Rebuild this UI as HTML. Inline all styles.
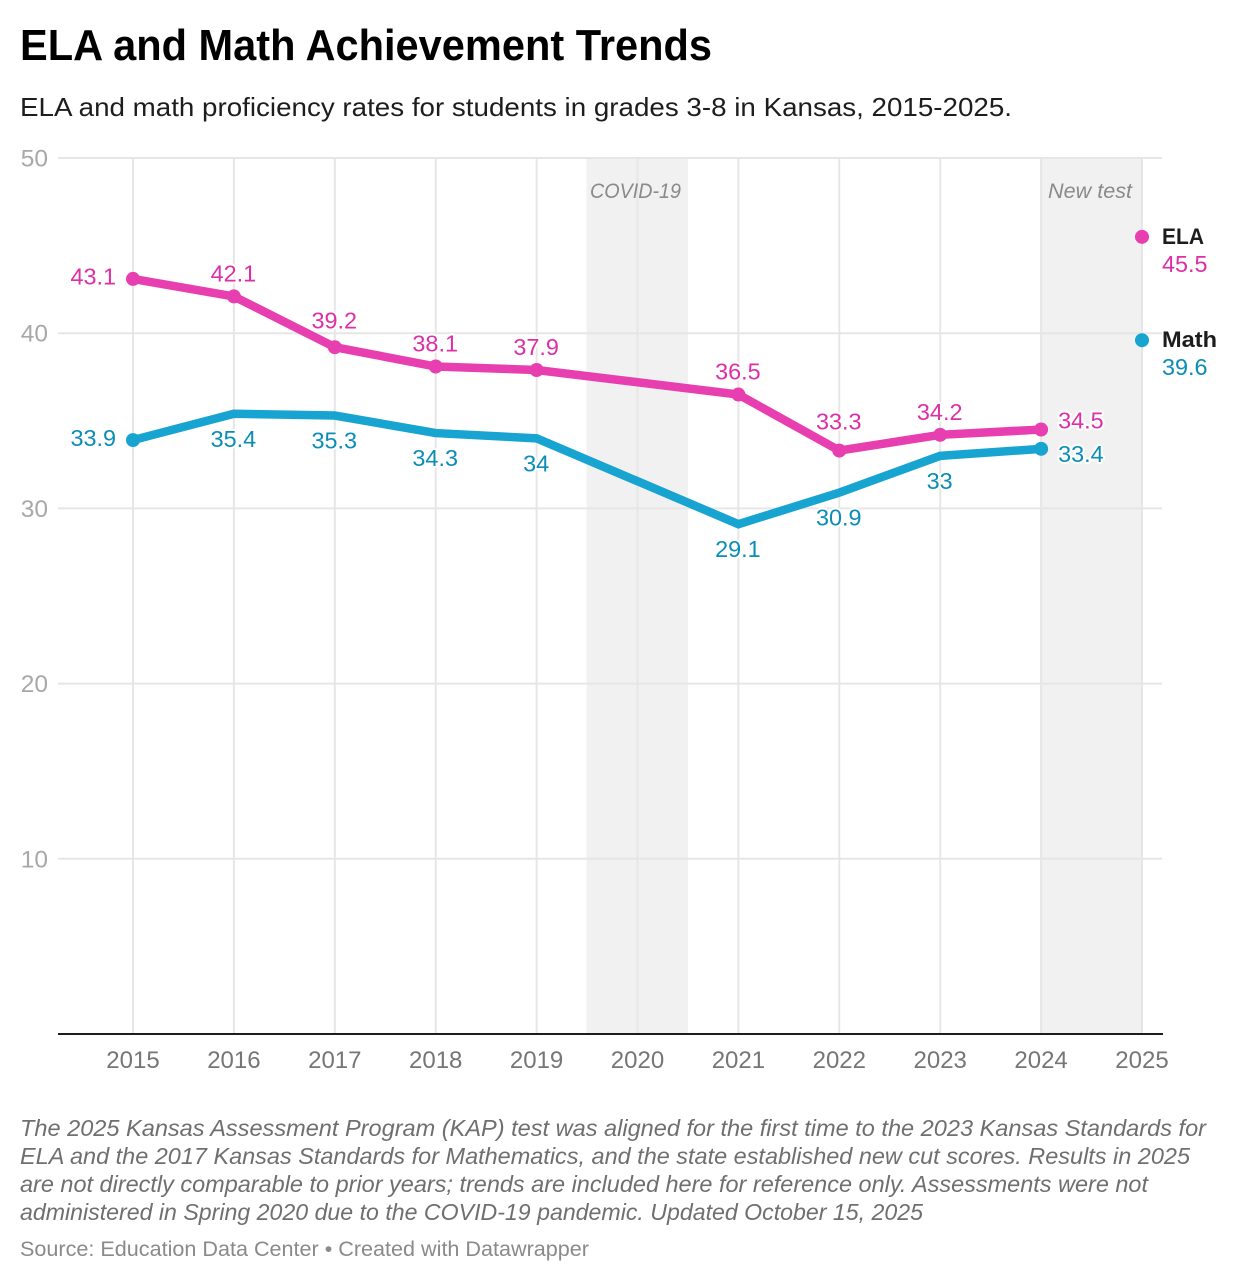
<!DOCTYPE html>
<html lang="en">
<head>
<meta charset="utf-8">
<title>ELA and Math Achievement Trends</title>
<style>
html,body{margin:0;padding:0;background:#fff;}
body{width:1238px;height:1282px;overflow:hidden;}
svg{display:block;font-family:"Liberation Sans",Arial,sans-serif;}
.halo{paint-order:stroke;stroke:#fff;stroke-width:4px;stroke-linejoin:round;}
</style>
</head>
<body>
<svg id="chart" width="1238" height="1282" viewBox="0 0 1238 1282" xmlns="http://www.w3.org/2000/svg">
  <rect x="0" y="0" width="1238" height="1282" fill="#ffffff"/>
  <text x="20" y="60" font-size="44" font-weight="700" fill="#000" textLength="692" lengthAdjust="spacingAndGlyphs">ELA and Math Achievement Trends</text>
  <text x="20" y="116" font-size="26" fill="#1d1d1d" textLength="992" lengthAdjust="spacingAndGlyphs">ELA and math proficiency rates for students in grades 3-8 in Kansas, 2015-2025.</text>

  <g id="bands"></g>
  <g id="grid"></g>
  <g id="yaxis"></g>
  <g id="xaxis"></g>
  <g id="annotations"></g>
  <g id="series"></g>

  <g font-size="23" font-style="italic" fill="#6f6f6f">
    <text x="20" y="1136" textLength="1186" lengthAdjust="spacingAndGlyphs">The 2025 Kansas Assessment Program (KAP) test was aligned for the first time to the 2023 Kansas Standards for</text>
    <text x="20" y="1164" textLength="1170" lengthAdjust="spacingAndGlyphs">ELA and the 2017 Kansas Standards for Mathematics, and the state established new cut scores. Results in 2025</text>
    <text x="20" y="1192" textLength="1128" lengthAdjust="spacingAndGlyphs">are not directly comparable to prior years; trends are included here for reference only. Assessments were not</text>
    <text x="20" y="1220" textLength="903" lengthAdjust="spacingAndGlyphs">administered in Spring 2020 due to the COVID-19 pandemic. Updated October 15, 2025</text>
  </g>
  <text x="20" y="1256" font-size="21" fill="#8a8a8a" textLength="569" lengthAdjust="spacingAndGlyphs">Source: Education Data Center • Created with Datawrapper</text>
</svg>
<script>
const years = [2015, 2016, 2017, 2018, 2019, 2020, 2021, 2022, 2023, 2024, 2025];
const elaValues = [43.1, 42.1, 39.2, 38.1, 37.9, null, 36.5, 33.3, 34.2, 34.5, 45.5];
const mathValues = [33.9, 35.4, 35.3, 34.3, 34, null, 29.1, 30.9, 33, 33.4, 39.6];
const yTicks = [10, 20, 30, 40, 50];
const covidBand = [2019.5, 2020.5];
const newTestBand = [2024, 2025];

const NS = 'http://www.w3.org/2000/svg';
const X0 = 133, X1 = 1142, Y0 = 1034, Y50 = 158;
const GRID_L = 58, GRID_R = 1162;
const x = v => X0 + (v - years[0]) * (X1 - X0) / (years[years.length - 1] - years[0]);
const y = v => Y0 - v * (Y0 - Y50) / 50;

function make(tag, parent, attrs, content) {
  const el = document.createElementNS(NS, tag);
  for (const k in attrs) el.setAttribute(k, attrs[k]);
  if (content !== undefined) el.textContent = content;
  parent.appendChild(el);
  return el;
}

const gBands = document.getElementById('bands');
const gGrid = document.getElementById('grid');
const gY = document.getElementById('yaxis');
const gX = document.getElementById('xaxis');
const gAnn = document.getElementById('annotations');
const gSeries = document.getElementById('series');

/* shaded bands */
{
  const el = make('rect', gBands, {x: x(covidBand[0]) - 0.5, y: Y50, width: x(covidBand[1]) - x(covidBand[0]) + 0.5, height: Y0 - Y50, fill: '#f1f1f1'});
  
  
  const el2 = make('rect', gBands, {x: x(newTestBand[0]), y: Y50, width: x(newTestBand[1]) - x(newTestBand[0]), height: Y0 - Y50, fill: '#f1f1f1'});
  
  
}

/* gridlines + axis labels */
yTicks.forEach(t => {
  const line = make('line', gGrid, {x1: GRID_L, x2: GRID_R, y1: y(t), y2: y(t), stroke: '#e6e6e6', 'stroke-width': 2});
  
  
  const label = make('text', gY, {x: 48, y: y(t) + 8.5, 'text-anchor': 'end', 'font-size': 24.5, fill: '#a8a8a8'}, String(t));
  
  
});
years.forEach(yr => {
  const line = make('line', gGrid, {x1: x(yr), x2: x(yr), y1: Y50, y2: Y0, stroke: '#e6e6e6', 'stroke-width': 2});
  
  
  const label = make('text', gX, {x: x(yr), y: 1068, 'text-anchor': 'middle', 'font-size': 24, fill: '#767676'}, String(yr));
  
  
});
{
  const base = make('line', gX, {x1: GRID_L, x2: GRID_R + 1, y1: Y0, y2: Y0, stroke: '#1d1d1d', 'stroke-width': 2});
  
  
}

/* band annotations */
{
  const a = make('text', gAnn, {x: 590, y: 198, 'font-size': 21.5, 'font-style': 'italic', fill: '#8a8a8a', textLength: 91, lengthAdjust: 'spacingAndGlyphs'}, 'COVID-19');
  
  
  const b = make('text', gAnn, {x: 1048, y: 198, 'font-size': 21.5, 'font-style': 'italic', fill: '#8a8a8a', textLength: 84, lengthAdjust: 'spacingAndGlyphs'}, 'New test');
  
  
}

/* series lines */
const ELA_LINE = '#e83fb0', ELA_TEXT = '#dd2fa6';
const MATH_LINE = '#18a4d0', MATH_TEXT = '#0b8db6';
const lastIdx = years.length - 1;

function linePoints(values) {
  const pts = [];
  for (let i = 0; i < lastIdx; i++) {
    if (values[i] !== null) pts.push(x(years[i]) + ',' + y(values[i]));
  }
  return pts.join(' ');
}

{
  const mathLine = make('polyline', gSeries, {points: linePoints(mathValues), fill: 'none', stroke: MATH_LINE, 'stroke-width': 8.5, 'stroke-linejoin': 'miter', 'stroke-linecap': 'round'});
  
  
  const elaLine = make('polyline', gSeries, {points: linePoints(elaValues), fill: 'none', stroke: ELA_LINE, 'stroke-width': 8.5, 'stroke-linejoin': 'miter', 'stroke-linecap': 'round'});
  
  
}

/* points */
elaValues.forEach((v, i) => {
  if (v === null) return;
  const dot = make('circle', gSeries, {cx: x(years[i]), cy: y(v), r: 7, fill: ELA_LINE});
  
  
});
mathValues.forEach((v, i) => {
  if (v === null) return;
  if (i !== 0 && i !== lastIdx - 1 && i !== lastIdx) return;
  const dot = make('circle', gSeries, {cx: x(years[i]), cy: y(v), r: 7, fill: MATH_LINE});
  
  
});

/* value labels: first sits left of the point, 2024 sits right, others above (ELA) or below (Math) */
const LABEL_SIZE = 23.4;
elaValues.forEach((v, i) => {
  if (v === null || i === lastIdx) return;
  let lx = x(years[i]) - 0.5, ly = y(v) - 15, anchor = 'middle';
  if (i === 0) { lx = x(years[i]) - 17; ly = y(v) + 5.5; anchor = 'end'; }
  else if (i === lastIdx - 1) { lx = x(years[i]) + 17; ly = y(v) - 1; anchor = 'start'; }
  else if (years[i] === 2017) { ly -= 3.5; }
  else if (years[i] === 2022) { ly -= 6; }
  const t = make('text', gSeries, {x: lx, y: ly, 'text-anchor': anchor, 'font-size': LABEL_SIZE, fill: ELA_TEXT, 'class': 'halo'}, String(v));
  
  
});
mathValues.forEach((v, i) => {
  if (v === null || i === lastIdx) return;
  let lx = x(years[i]) - 0.5, ly = y(v) + 33, anchor = 'middle';
  if (i === 0) { lx = x(years[i]) - 17; ly = y(v) + 6; anchor = 'end'; }
  else if (i === lastIdx - 1) { lx = x(years[i]) + 17; ly = y(v) + 13; anchor = 'start'; }
  const t = make('text', gSeries, {x: lx, y: ly, 'text-anchor': anchor, 'font-size': LABEL_SIZE, fill: MATH_TEXT, 'class': 'halo'}, String(v));
  
  
});

/* direct legend at 2025 */
{
  const e1 = make('text', gSeries, {x: 1162, y: y(elaValues[lastIdx]) + 7, 'font-size': 22.5, 'font-weight': 700, fill: '#1d1d1d', textLength: 42, lengthAdjust: 'spacingAndGlyphs'}, 'ELA');
  
  
  const e2 = make('text', gSeries, {x: 1162, y: y(elaValues[lastIdx]) + 35, 'font-size': LABEL_SIZE, fill: ELA_TEXT}, String(elaValues[lastIdx]));
  
  
  const m1 = make('text', gSeries, {x: 1162, y: y(mathValues[lastIdx]) + 7, 'font-size': 22.5, 'font-weight': 700, fill: '#1d1d1d', textLength: 55, lengthAdjust: 'spacingAndGlyphs'}, 'Math');
  
  
  const m2 = make('text', gSeries, {x: 1162, y: y(mathValues[lastIdx]) + 35, 'font-size': LABEL_SIZE, fill: MATH_TEXT}, String(mathValues[lastIdx]));
  
  
}
</script>
</body>
</html>
